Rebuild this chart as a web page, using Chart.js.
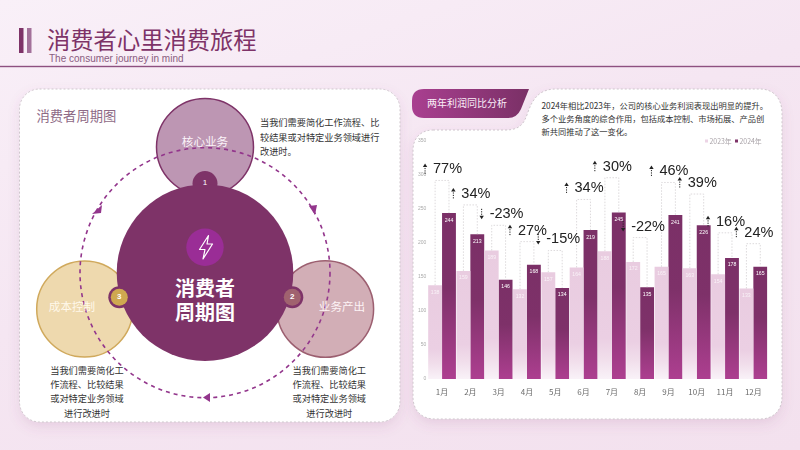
<!DOCTYPE html>
<html lang="zh-CN">
<head>
<meta charset="utf-8">
<title>消费者心里消费旅程</title>
<script src="https://cdn.jsdelivr.net/npm/chart.js@4"></script>
<style>
html,body{margin:0;padding:0;width:800px;height:450px;overflow:hidden}
body{position:relative;background:linear-gradient(160deg,#f9f0f8 0%,#f5e6f2 45%,#f3e1ee 100%);font-family:"Noto Sans CJK SC","Liberation Sans",sans-serif}
.t{position:absolute;white-space:nowrap}
svg{position:absolute;left:0;top:0}
#wrap{position:absolute;left:414px;top:125px;width:370px;height:290px}
</style>
</head>
<body>
<svg width="800" height="450" viewBox="0 0 800 450">
  <defs>
    <linearGradient id="tab" x1="0" x2="1" y1="0" y2="0"><stop offset="0" stop-color="#a93f90"/><stop offset="1" stop-color="#7a3066"/></linearGradient>
    <filter id="sh" x="-10%" y="-10%" width="120%" height="125%"><feDropShadow dx="0" dy="5" stdDeviation="6" flood-color="#8e4e80" flood-opacity=".13"/></filter>
  </defs>
  <rect x="19" y="28" width="4.5" height="25" fill="#7e3368"/>
  <rect x="27" y="28" width="4.5" height="25" fill="#a3719a"/>
  <rect x="0" y="65.8" width="800" height="1.4" fill="#8e5080"/>

  <rect x="19.5" y="89" width="380.5" height="333" rx="20" fill="#fff" stroke="#cfc6cd" stroke-width="1" stroke-dasharray="2 2" filter="url(#sh)"/>

  <path d="M433 130 H505 C520 130 524 124 528 112 C533 98 540 89 556 89 H760 C774 89 782 99 782 113 V397 C782 411 773 419 760 419 H435 C421 419 413 410 413 397 V150 C413 138 421 130 433 130 Z" fill="#fff" stroke="#cfc6cd" stroke-width="1" stroke-dasharray="2 2" filter="url(#sh)"/>
  <path d="M424 89 H529 L521 109 Q517 118 508 118 H424 Q412 118 412 106 V101 Q412 89 424 89 Z" fill="url(#tab)"/>

  <circle cx="205" cy="147" r="48.5" fill="#bd96b3" stroke="#7e3368" stroke-width="1.5"/>
  <circle cx="325.3" cy="309" r="48.3" fill="#d2aeb6" stroke="#9c5f70" stroke-width="1.5"/>
  <circle cx="84.7" cy="309" r="48" fill="#eed9ae" stroke="#d0a95c" stroke-width="1.5"/>
  <circle cx="205" cy="272.7" r="125" fill="none" stroke="#93368c" stroke-width="1.6" stroke-dasharray="4 4"/>
  <path d="M92 214 L102 205 L101 213 Z" fill="#93368c"/>
  <path d="M309 206 L317 205 L315 215 Z" fill="#93368c"/>
  <path d="M203 397.5 L210 393 L210 402 Z" fill="#93368c"/>
  <circle cx="205" cy="183.5" r="12.5" fill="#7e3368"/>
  <circle cx="292.3" cy="297.3" r="11" fill="#7e3368"/>
  <circle cx="119.3" cy="297.3" r="11" fill="#7e3368"/>
  <circle cx="205" cy="272.7" r="88.3" fill="#7e3368"/>
  <circle cx="292.3" cy="297.3" r="8.5" fill="#a0626f"/>
  <circle cx="119.3" cy="297.3" r="8.5" fill="#cfa850"/>
  <circle cx="205" cy="247.3" r="18.7" fill="#9a2d96"/>
  <path d="M208.5 235.5 L199.5 249.5 H205 L203 259 L212.5 244 H207 Z" fill="none" stroke="#fff" stroke-width="1.2" stroke-linejoin="round"/>
</svg>

<div class="t" style="left:47px;top:22px;font-size:23.3px;line-height:34px;color:#7e3368">消费者心里消费旅程</div>
<div class="t" style="left:49px;top:52px;font:10px/14px 'Liberation Sans';color:#8a5c80">The consumer journey in mind</div>
<div class="t" style="left:36.5px;top:106px;font-size:13.3px;line-height:20px;color:#8e6a86">消费者周期图</div>

<div class="t" style="left:165px;width:80px;text-align:center;top:133px;font-size:11.6px;line-height:17px;color:#fbf3f9">核心业务</div>
<div class="t" style="left:32px;width:80px;text-align:center;top:297.5px;font-size:11.6px;line-height:17px;color:#fff8ea">成本控制</div>
<div class="t" style="left:302px;width:80px;text-align:center;top:297.5px;font-size:11.6px;line-height:17px;color:#fdf3f5">业务产出</div>

<div class="t" style="left:195px;width:20px;text-align:center;top:177px;font:8px/12px 'Liberation Sans';color:#fff">1</div>
<div class="t" style="left:282.3px;width:20px;text-align:center;top:291px;font:bold 8px/12px 'Liberation Sans';color:#fff">2</div>
<div class="t" style="left:109.3px;width:20px;text-align:center;top:291px;font:bold 8px/12px 'Liberation Sans';color:#fff">3</div>

<div class="t" style="left:145px;width:120px;text-align:center;top:276px;font-size:20px;line-height:24px;font-weight:700;color:#fff">消费者<br>周期图</div>

<div class="t" style="left:260px;top:115px;font-size:9.2px;line-height:14.6px;color:#333">当我们需要简化工作流程、比<br>较结果或对特定业务领域进行<br>改进时。</div>
<div class="t" style="left:37px;width:100px;text-align:center;top:362.5px;font-size:9.2px;line-height:14.4px;color:#333">当我们需要简化工<br>作流程、比较结果<br>或对特定业务领域<br>进行改进时</div>
<div class="t" style="left:279.3px;width:100px;text-align:center;top:362.5px;font-size:9.2px;line-height:14.4px;color:#333">当我们需要简化工<br>作流程、比较结果<br>或对特定业务领域<br>进行改进时</div>

<div class="t" style="left:427px;top:95px;font-size:10px;line-height:16px;color:#fbeef8">两年利润同比分析</div>
<div class="t" style="left:541.5px;top:99px;font-size:8.25px;line-height:13px;color:#333">2024年相比2023年，公司的核心业务利润表现出明显的提升。<br>多个业务角度的综合作用，包括成本控制、市场拓展、产品创<br>新共同推动了这一变化。</div>

<div id="wrap"><canvas id="c" width="370" height="290"></canvas></div>

<script>
const months = ['1月','2月','3月','4月','5月','6月','7月','8月','9月','10月','11月','12月'];
const sales2023 = [138,159,189,132,157,164,188,172,165,163,154,133];
const sales2024 = [244,213,146,168,134,219,245,135,241,226,178,165];
const growthPct = [77,34,-23,27,-15,34,30,-22,46,39,16,24];
const bracketTops = [292,256,226,202,189,264,296,208,289,272,215,199];
const seriesNames = ['2023年','2024年'];
const yMax = 350;
const yStep = 50;

function barGradient(stops){
  return function(ctx){
    const chart = ctx.chart, y = chart.scales.y;
    const fallback = stops[0][1];
    if(!y || typeof ctx.raw !== 'number') return fallback;
    const y0 = y.getPixelForValue(ctx.raw), y1 = y.getPixelForValue(0);
    if(!Number.isFinite(y0) || !Number.isFinite(y1)) return fallback;
    const g = chart.ctx.createLinearGradient(0, y0, 0, y1);
    stops.forEach(s => g.addColorStop(s[0], s[1]));
    return g;
  };
}
const lightStops = [[0,'#e9cce0'],[0.68,'#ebcfe3'],[0.84,'#f1deeb'],[1,'#f9f2f8']];
const darkStops = [[0,'#7b3067'],[0.45,'#7e3169'],[1,'#ad3f90']];

const overlay = {
  id:'overlay',
  afterDatasetsDraw(chart){
    const c = chart.ctx, x = chart.scales.x, y = chart.scales.y;
    const m0 = chart.getDatasetMeta(0).data, m1 = chart.getDatasetMeta(1).data;
    c.save();
    // value labels inside the bars
    c.textAlign='center'; c.textBaseline='middle'; c.font='5.2px "Liberation Sans"';
    months.forEach((_,i)=>{
      c.fillStyle='rgba(255,255,255,.75)';
      c.fillText(String(sales2023[i]), m0[i].x, m0[i].y+7);
      c.fillStyle='#fff';
      c.fillText(String(sales2024[i]), m1[i].x, m1[i].y+7);
    });
    // dashed brackets linking the two bars
    c.strokeStyle='#d4d0d3'; c.lineWidth=.8; c.setLineDash([1.5,1.5]);
    months.forEach((_,i)=>{
      const top=y.getPixelForValue(bracketTops[i]);
      c.beginPath();
      c.moveTo(m0[i].x,m0[i].y); c.lineTo(m0[i].x,top); c.lineTo(m1[i].x,top); c.lineTo(m1[i].x,m1[i].y);
      c.stroke();
    });
    // growth arrows and labels
    c.textAlign='left';
    c.font='14.5px "Liberation Sans"';
    months.forEach((_,i)=>{
      const cx=x.getPixelForValue(i), ly=y.getPixelForValue(bracketTops[i])-11.5;
      const up=growthPct[i]>=0, ax=cx-17, dir=up?-1:1;
      c.strokeStyle='#222'; c.fillStyle='#222'; c.lineWidth=1; c.setLineDash([1.2,1.2]);
      c.beginPath(); c.moveTo(ax,ly-dir*5); c.lineTo(ax,ly+dir*2); c.stroke();
      c.setLineDash([]);
      c.beginPath(); c.moveTo(ax,ly+dir*5.5); c.lineTo(ax-2.2,ly+dir*2); c.lineTo(ax+2.2,ly+dir*2); c.closePath(); c.fill();
      c.fillStyle='#222';
      c.fillText((up?'':'-')+Math.abs(growthPct[i])+'%', cx-9, ly+.5);
    });
    // legend
    c.font='6.9px "Noto Sans CJK SC"';
    const ly=y.getPixelForValue(yMax);
    const swatches=[['#ecd4e5',705-414],['#7e3368',735-414]];
    swatches.forEach((s,k)=>{
      c.fillStyle=s[0]; c.fillRect(s[1],ly-1.5,3,3);
      c.fillStyle='#a9a3a8'; c.fillText(seriesNames[k],s[1]+4.5,ly);
    });
    c.restore();
  }
};

new Chart(document.getElementById('c'),{
  type:'bar',
  data:{labels:months,datasets:[
    {label:seriesNames[0],data:sales2023,backgroundColor:barGradient(lightStops),categoryPercentage:.98,barPercentage:1},
    {label:seriesNames[1],data:sales2024,backgroundColor:barGradient(darkStops),categoryPercentage:.98,barPercentage:1}
  ]},
  options:{
    responsive:false,animation:false,devicePixelRatio:1,
    layout:{padding:{left:0,right:16.5,top:16,bottom:0}},
    plugins:{legend:{display:false},tooltip:{enabled:false}},
    scales:{
      x:{grid:{display:false,drawTicks:false},border:{display:false},
         afterFit(s){s.height=36;},
         ticks:{padding:8,color:'#6b6b6b',font:{size:8,family:'"Noto Sans CJK SC"'},maxRotation:0,autoSkip:false}},
      y:{min:0,max:yMax,grid:{display:false,drawTicks:false},border:{display:false},
         afterFit(s){s.width=13.9;},
         ticks:{stepSize:yStep,autoSkip:false,padding:1.5,color:'#aaa',font:{size:5,family:'"Liberation Sans"'}}}
    }
  },
  plugins:[overlay]
});
</script>
</body>
</html>
